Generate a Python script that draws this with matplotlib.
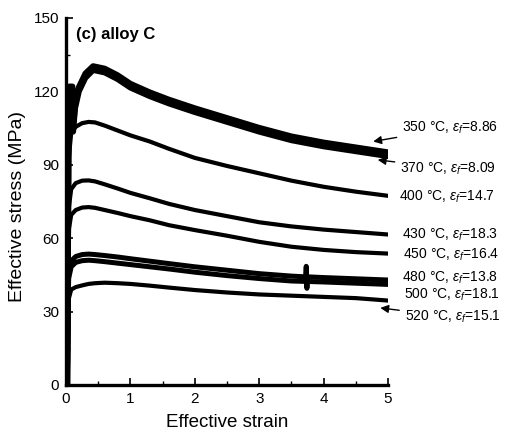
import matplotlib
matplotlib.use("Agg")
import matplotlib.pyplot as plt
from matplotlib.ticker import MultipleLocator

plt.rcParams['font.family'] = ['Liberation Sans', 'DejaVu Sans']
plt.rcParams['mathtext.fontset'] = 'custom'
plt.rcParams['mathtext.rm'] = 'Liberation Sans'
plt.rcParams['mathtext.it'] = 'Liberation Sans:italic'

# ---- data ----
strain = [0.02, 0.04, 0.08, 0.15, 0.25, 0.35, 0.45, 0.6, 0.8, 1.0, 1.3, 1.6, 2.0, 2.5,
          3.0, 3.5, 4.0, 4.5, 5.0]

strain_band = [0.02, 0.04, 0.05, 0.10, 0.11, 0.14, 0.2, 0.3, 0.42, 0.6, 0.8, 1.0, 1.3,
               1.6, 2.0, 2.5, 3.0, 3.5, 4.0, 4.5, 5.0]
stress_350 = [0, 101, 122, 122, 105, 114.5, 121.8, 127.3, 130.3, 129.3, 126.6, 123.1, 119.6,
              116.6, 113.1, 109.1, 105.1, 101.6, 99.1, 97.1, 95.1]
stress_370 = [0, 99, 121, 121, 103.5, 113, 120, 125.5, 128.7, 127.7, 125, 121.5, 118,
              115, 111.5, 107.5, 103.5, 100, 97.5, 95.5, 93.5]

stress_400 = [0, 92, 103, 105.5, 107, 107.5, 107.3, 106, 104, 102, 99.5, 96.5, 92.8,
              89.5, 86.5, 83.5, 81, 79, 77.3]
stress_430 = [0, 72, 80, 82.5, 83.5, 83.6, 83.2, 82, 80.3, 78.5, 76.3, 74, 71.5,
              69, 66.5, 64.8, 63.5, 62.5, 61.5]
stress_450 = [0, 63, 69.5, 71.5, 72.5, 72.7, 72.4, 71.5, 70.3, 69, 67.3, 65.3, 63.3,
              61, 58.5, 56.5, 55.2, 54.3, 53.7]

strain_480 = [0.02, 0.04, 0.08, 0.15, 0.25, 0.35, 0.45, 0.6, 0.8, 1.0, 1.3, 1.6, 2.0,
              2.5, 3.0, 3.5, 3.72, 3.73, 3.74, 3.75, 4.0, 4.5, 5.0]
stress_480 = [0, 46, 50.7, 52.5, 53.3, 53.5, 53.3, 52.9, 52.3, 51.6, 50.6, 49.6, 48.3,
              46.9, 45.5, 44.5, 44.2, 48.5, 39.5, 44.2, 43.9, 43.4, 42.9]

stress_500 = [0, 43.5, 48.3, 50.1, 50.8, 51, 50.8, 50.4, 49.8, 49.2, 48.3, 47.4, 46.1,
              44.7, 43.5, 42.5, 42.1, 41.6, 41.1]
stress_520 = [0, 35, 39, 40, 40.7, 41.3, 41.6, 41.8, 41.6, 41.3, 40.6, 39.8, 38.8,
              37.8, 37, 36.5, 36, 35.5, 34.5]

labels = ["350 °C, $\\varepsilon_f$=8.86", "370 °C, $\\varepsilon_f$=8.09",
          "400 °C, $\\varepsilon_f$=14.7", "430 °C, $\\varepsilon_f$=18.3",
          "450 °C, $\\varepsilon_f$=16.4", "480 °C, $\\varepsilon_f$=13.8",
          "500 °C, $\\varepsilon_f$=18.1", "520 °C, $\\varepsilon_f$=15.1"]

fig = plt.figure(figsize=(5.16, 4.37), dpi=100)
ax = fig.add_axes([0.128, 0.119, 0.624, 0.840])

lw = 3.0
lw_band = 4.2
ax.plot(strain_band, stress_350, color='k', lw=lw_band, solid_joinstyle='round')
ax.plot(strain_band, stress_370, color='k', lw=lw_band, solid_joinstyle='round')
ax.plot(strain, stress_400, color='k', lw=lw, solid_joinstyle='round')
ax.plot(strain, stress_430, color='k', lw=lw, solid_joinstyle='round')
ax.plot(strain, stress_450, color='k', lw=lw, solid_joinstyle='round')
ax.plot(strain_480, stress_480, color='k', lw=3.6, solid_joinstyle='round')
ax.plot(strain, stress_500, color='k', lw=3.6, solid_joinstyle='round')
ax.plot(strain, stress_520, color='k', lw=lw, solid_joinstyle='round')

ax.set_xlim(0, 5)
ax.set_ylim(0, 150)
ax.xaxis.set_major_locator(MultipleLocator(1))
ax.xaxis.set_minor_locator(MultipleLocator(0.5))
ax.yaxis.set_major_locator(MultipleLocator(30))
ax.yaxis.set_minor_locator(MultipleLocator(15))
for s in ['top', 'right']:
    ax.spines[s].set_visible(False)
for s in ['left', 'bottom']:
    ax.spines[s].set_linewidth(2.4)
ax.tick_params(which='major', direction='in', length=5, width=1.2, labelsize=11, pad=5)
ax.tick_params(which='minor', direction='in', length=3, width=1)

ax.set_xlabel("Effective strain", fontsize=13.5)
ax.set_ylabel("Effective stress (MPa)", fontsize=14)
ax.xaxis.set_label_coords(0.5, -0.078)
ax.yaxis.set_label_coords(-0.125, 0.485)

ax.text(0.03, 0.955, "(c) alloy C", transform=ax.transAxes, fontsize=12,
        fontweight='bold', va='center', ha='left')

# right-hand labels (text position, optional arrow head) in data coordinates
label_pos = [(5.22, 105.0), (5.19, 88.5), (5.17, 76.8), (5.22, 61.3),
             (5.23, 53.1), (5.22, 43.7), (5.25, 36.8), (5.26, 27.8)]
arrow_heads = {0: (4.77, 99.5), 1: (4.84, 92.0), 7: (4.88, 31.5)}

for i, (lab, (tx, ty)) in enumerate(zip(labels, label_pos)):
    if i in arrow_heads:
        ax.annotate(lab, xy=arrow_heads[i], xytext=(tx, ty), textcoords='data',
                    fontsize=10, va='center', ha='left', annotation_clip=False,
                    arrowprops=dict(arrowstyle='-|>', color='k', lw=1,
                                    mutation_scale=12, shrinkA=2, shrinkB=0))
    else:
        ax.text(tx, ty, lab, fontsize=10, va='center', ha='left', clip_on=False)

fig.savefig("out.png", dpi=100)
